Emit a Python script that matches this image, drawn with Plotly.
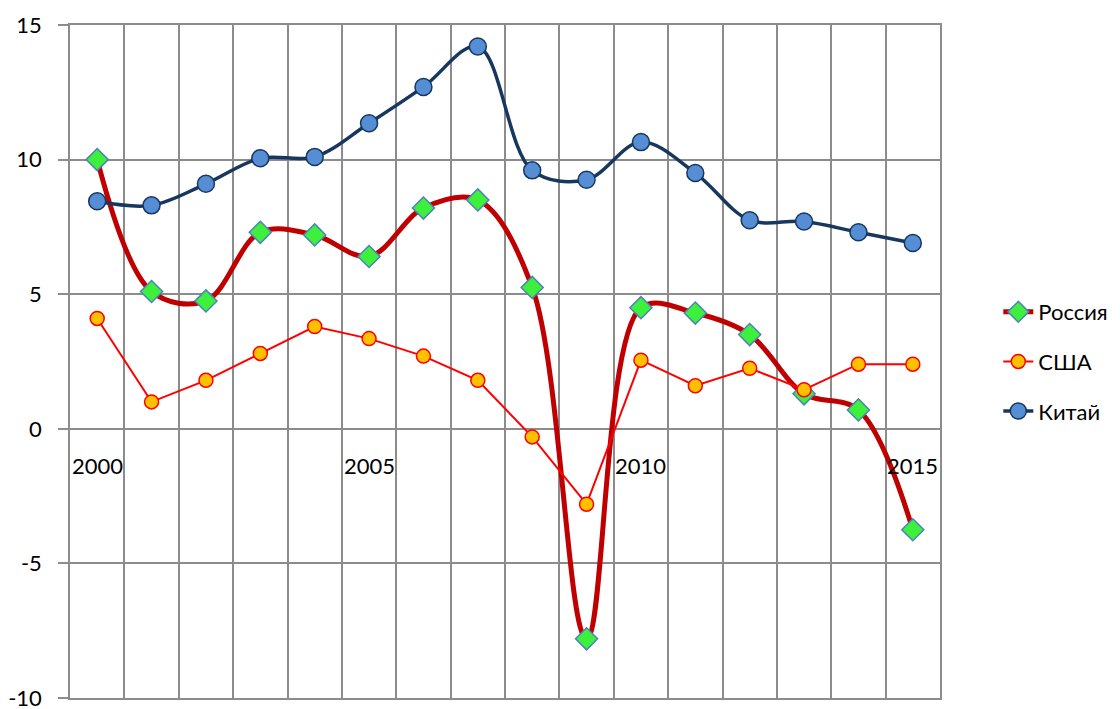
import plotly.graph_objects as go

years = list(range(2000, 2016))
russia = [10.0, 5.1, 4.75, 7.3, 7.2, 6.4, 8.2, 8.5, 5.25, -7.8, 4.5, 4.3, 3.5, 1.3, 0.7, -3.75]
usa = [4.1, 1.0, 1.8, 2.8, 3.8, 3.35, 2.7, 1.8, -0.3, -2.8, 2.55, 1.6, 2.25, 1.45, 2.4, 2.4]
china = [8.45, 8.3, 9.1, 10.05, 10.1, 11.35, 12.7, 14.2, 9.6, 9.25, 10.65, 9.5, 7.75, 7.7, 7.3, 6.9]
x_labels = [2000, 2005, 2010, 2015]
y_ticks = [-10, -5, 0, 5, 10, 15]
y_ticktext = ["-10", "-5", "0", "5", "10", "15"]

FONT = "Lato"
GRID = "#8c8c8c"

fig = go.Figure()
fig.add_trace(go.Scatter(
    x=years, y=russia, name="Россия", mode="lines+markers", legendgroup="r",
    line=dict(color="#C00000", width=5, shape="spline", smoothing=1.0),
    marker=dict(symbol="diamond", size=17, color="#3CF03C",
                line=dict(color="#4F81BD", width=1.5)),
))
fig.add_trace(go.Scatter(
    x=years, y=usa, name="США", mode="lines+markers", legendgroup="u",
    line=dict(color="#FF0000", width=2),
    marker=dict(symbol="circle", size=14, color="#FFC000",
                line=dict(color="#FF0000", width=1.5)),
))
fig.add_trace(go.Scatter(
    x=years, y=china, name="Китай", mode="lines+markers", legendgroup="c",
    line=dict(color="#17375E", width=3.5, shape="spline", smoothing=1.0),
    marker=dict(symbol="circle", size=17, color="#558ED5",
                line=dict(color="#17375E", width=1.5)),
))

for yr in x_labels:
    fig.add_annotation(x=yr, y=0, xref="x", yref="y", text=str(yr),
                       showarrow=False, yanchor="top", yshift=-21,
                       font=dict(family=FONT, size=22, color="#000000"))

fig.update_layout(
    width=1112, height=712,
    margin=dict(l=62, r=180, t=17, b=22, autoexpand=False),
    paper_bgcolor="white", plot_bgcolor="white",
    font=dict(family=FONT, size=22, color="#000000"),
    showlegend=True,
    legend=dict(x=1.067, y=0.5, xanchor="left", yanchor="middle",
                font=dict(family=FONT, size=22), tracegroupgap=18,
                bgcolor="rgba(0,0,0,0)"),
    xaxis=dict(range=[1999.5, 2015.5], tick0=1999.5, dtick=1, tickmode="linear",
               showticklabels=False, showgrid=True, gridcolor=GRID, gridwidth=1.5,
               showline=True, mirror=True, linecolor=GRID, linewidth=1.5,
               zeroline=False, ticks=""),
    yaxis=dict(range=[-10, 15], tickmode="array", tickvals=y_ticks, ticktext=y_ticktext,
               showgrid=True, gridcolor=GRID,
               gridwidth=1.5, showline=True, mirror=True, linecolor=GRID, linewidth=1.5,
               zeroline=True, zerolinecolor=GRID, zerolinewidth=1.5,
               ticks="outside", ticklen=10, tickcolor=GRID, tickwidth=1.5,
               ticklabelstandoff=12, ticklabeloverflow="allow",
               tickfont=dict(family=FONT, size=22, color="#000000")),
)

fig.write_html("out.html")
